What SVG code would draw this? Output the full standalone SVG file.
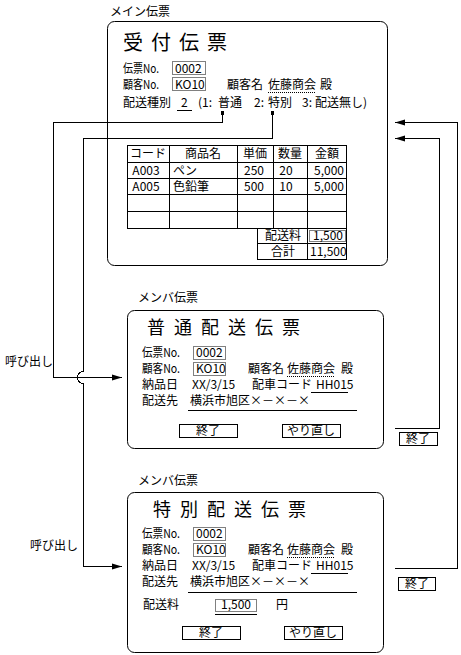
<svg xmlns="http://www.w3.org/2000/svg" width="461" height="655" viewBox="0 0 461 655">
<defs>
<style>
.t{font-family:"Noto Sans CJK JP","Noto Sans",sans-serif;font-size:12px;fill:#000}
.h{font-family:"Noto Sans CJK JP","Noto Sans",sans-serif;fill:#000}
.l{fill:none;stroke:#000;stroke-width:1}
.d{fill:none;stroke:#000;stroke-width:1;stroke-dasharray:1 1}
.m{text-anchor:middle}
.e{text-anchor:end}
</style>
<marker id="ah" markerWidth="11" markerHeight="8" refX="10" refY="4" orient="auto" markerUnits="userSpaceOnUse">
<path d="M0,1 L10,4 L0,7 Z" fill="#000"/>
</marker>
</defs>
<rect width="461" height="655" fill="#fff"/>

<g id="connectors" shape-rendering="crispEdges">
<path class="l" d="M222.5,113 V122.5 H53.5 V377.5 H122" marker-end="url(#ah)"/>
<path class="l" d="M272.5,113 V138.5 H83.5 V371.5 A6,6 0 0 0 83.5,383.5 V566.5 H122" marker-end="url(#ah)"/>
<path class="l" d="M395,428.5 H439.5 V138.5 H395" marker-end="url(#ah)"/>
<path class="l" d="M395,568.5 H457.5 V122.5 H395" marker-end="url(#ah)"/>
<circle cx="222.5" cy="113" r="2" fill="#000"/>
<circle cx="272.5" cy="113" r="2" fill="#000"/>
<text class="t" x="5" y="366">呼び出し</text>
<text class="t" x="30" y="550">呼び出し</text>
</g>

<g id="main">
<text class="t" x="110" y="16">メイン伝票</text>
<rect class="l" x="107.5" y="21.5" width="280" height="244" rx="7"/>
<text class="h" x="123" y="50" font-size="20" letter-spacing="8">受付伝票</text>
<text class="t" x="123" y="73" textLength="36" lengthAdjust="spacingAndGlyphs">伝票No.</text>
<rect class="d" x="172.5" y="61.5" width="33" height="13"/>
<text class="t" x="175" y="73">0002</text>
<text class="t" x="123" y="89" textLength="36" lengthAdjust="spacingAndGlyphs">顧客No.</text>
<rect class="d" x="172.5" y="77.5" width="33" height="13"/>
<text class="t" x="175" y="89">KO10</text>
<text class="t" x="227" y="89">顧客名</text>
<text class="t" x="268" y="89">佐藤商会</text>
<line class="d" x1="268" y1="92.5" x2="316" y2="92.5"/>
<text class="t" x="320" y="89">殿</text>
<text class="t" x="123" y="107">配送種別</text>
<text class="t" x="181" y="107">2</text>
<line class="l" x1="177" y1="110.5" x2="192" y2="110.5"/>
<text class="t" x="198" y="107">(1:</text>
<text class="t" x="218" y="107">普通</text>
<text class="t" x="254" y="107">2:</text>
<text class="t" x="268" y="107">特別</text>
<text class="t" x="302" y="107">3:</text>
<text class="t" x="315" y="107">配送無し)</text>
<g shape-rendering="crispEdges">
<rect class="l" x="127.5" y="145.5" width="219" height="83"/>
<path class="l" d="M127,162.5 H347 M127,178.5 H347 M127,194.5 H347 M127,211.5 H347 M169.5,145 V228 M237.5,145 V228 M273.5,145 V228 M307.5,145 V259 M257.5,228 V259 M257,243.5 H347 M257,259.5 H347 M346.5,228 V259"/>
</g>
<text class="t m" x="148" y="158">コード</text>
<text class="t m" x="203" y="158">商品名</text>
<text class="t m" x="255" y="158">単価</text>
<text class="t m" x="290" y="158">数量</text>
<text class="t m" x="327" y="158">金額</text>
<text class="t m" x="146" y="175">A003</text>
<text class="t" x="173" y="175">ペン</text>
<text class="t m" x="254" y="175">250</text>
<text class="t m" x="286" y="175">20</text>
<text class="t e" x="344" y="175">5,000</text>
<text class="t m" x="146" y="191">A005</text>
<text class="t" x="173" y="191">色鉛筆</text>
<text class="t m" x="254" y="191">500</text>
<text class="t m" x="286" y="191">10</text>
<text class="t e" x="344" y="191">5,000</text>
<text class="t m" x="283" y="240">配送料</text>
<rect class="d" x="309.5" y="230.5" width="36" height="11"/>
<text class="t" x="313" y="240">1,500</text>
<text class="t m" x="283" y="256">合計</text>
<text class="t" x="310" y="256">11,500</text>
</g>

<g id="normal">
<text class="t" x="138" y="302">メンバ伝票</text>
<rect class="l" x="127.5" y="310.5" width="256" height="138" rx="7"/>
<text class="h" x="147" y="334" font-size="18" letter-spacing="9">普通配送伝票</text>
<text class="t" x="142" y="357" textLength="38" lengthAdjust="spacingAndGlyphs">伝票No.</text>
<rect class="d" x="193.5" y="346.5" width="32" height="13"/>
<text class="t" x="196" y="357">0002</text>
<text class="t" x="142" y="373" textLength="38" lengthAdjust="spacingAndGlyphs">顧客No.</text>
<rect class="d" x="193.5" y="362.5" width="32" height="13"/>
<text class="t" x="196" y="373">KO10</text>
<text class="t" x="248" y="373">顧客名</text>
<text class="t" x="287" y="373">佐藤商会</text>
<line class="d" x1="287" y1="376.5" x2="335" y2="376.5"/>
<text class="t" x="341" y="373">殿</text>
<text class="t" x="142" y="389">納品日</text>
<text class="t" x="192" y="389">XX/3/15</text>
<text class="t" x="252" y="389">配車コード</text>
<text class="t" x="316" y="389">HH015</text>
<line class="l" x1="311" y1="392.5" x2="348" y2="392.5"/>
<text class="t" x="142" y="405">配送先</text>
<text class="t" x="190" y="405">横浜市旭区×－×－×</text>
<line class="l" x1="188" y1="410.5" x2="357" y2="410.5"/>
<rect class="l" x="179.5" y="424.5" width="58" height="13" shape-rendering="crispEdges"/>
<text class="t m" x="208" y="435">終了</text>
<rect class="l" x="282.5" y="424.5" width="58" height="13" shape-rendering="crispEdges"/>
<text class="t m" x="311" y="435">やり直し</text>
</g>

<g id="normal-end">
<rect class="l" x="399.5" y="432.5" width="38" height="13" shape-rendering="crispEdges"/>
<text class="t m" x="418" y="443">終了</text>
</g>

<g id="special">
<text class="t" x="138" y="485">メンバ伝票</text>
<rect class="l" x="127.5" y="492.5" width="256" height="160" rx="7"/>
<text class="h" x="153" y="516" font-size="18" letter-spacing="9">特別配送伝票</text>
<text class="t" x="142" y="538" textLength="38" lengthAdjust="spacingAndGlyphs">伝票No.</text>
<rect class="d" x="193.5" y="527.5" width="32" height="13"/>
<text class="t" x="196" y="538">0002</text>
<text class="t" x="142" y="554" textLength="38" lengthAdjust="spacingAndGlyphs">顧客No.</text>
<rect class="d" x="193.5" y="543.5" width="32" height="13"/>
<text class="t" x="196" y="554">KO10</text>
<text class="t" x="248" y="554">顧客名</text>
<text class="t" x="287" y="554">佐藤商会</text>
<line class="d" x1="287" y1="557.5" x2="335" y2="557.5"/>
<text class="t" x="341" y="554">殿</text>
<text class="t" x="142" y="570">納品日</text>
<text class="t" x="192" y="570">XX/3/15</text>
<text class="t" x="252" y="570">配車コード</text>
<text class="t" x="316" y="570">HH015</text>
<line class="l" x1="311" y1="573.5" x2="348" y2="573.5"/>
<text class="t" x="142" y="586">配送先</text>
<text class="t" x="190" y="586">横浜市旭区×－×－×</text>
<line class="l" x1="188" y1="592.5" x2="357" y2="592.5"/>
<text class="t" x="143" y="609">配送料</text>
<rect class="d" x="215.5" y="599.5" width="41" height="12"/>
<text class="t" x="221" y="609">1,500</text>
<line class="l" x1="215" y1="614.5" x2="257" y2="614.5"/>
<text class="t" x="276" y="609">円</text>
<rect class="l" x="182.5" y="626.5" width="58" height="13" shape-rendering="crispEdges"/>
<text class="t m" x="211" y="637">終了</text>
<rect class="l" x="284.5" y="626.5" width="58" height="13" shape-rendering="crispEdges"/>
<text class="t m" x="313" y="637">やり直し</text>
</g>

<g id="special-end">
<rect class="l" x="398.5" y="577.5" width="37" height="13" shape-rendering="crispEdges"/>
<text class="t m" x="417" y="588">終了</text>
</g>
</svg>
